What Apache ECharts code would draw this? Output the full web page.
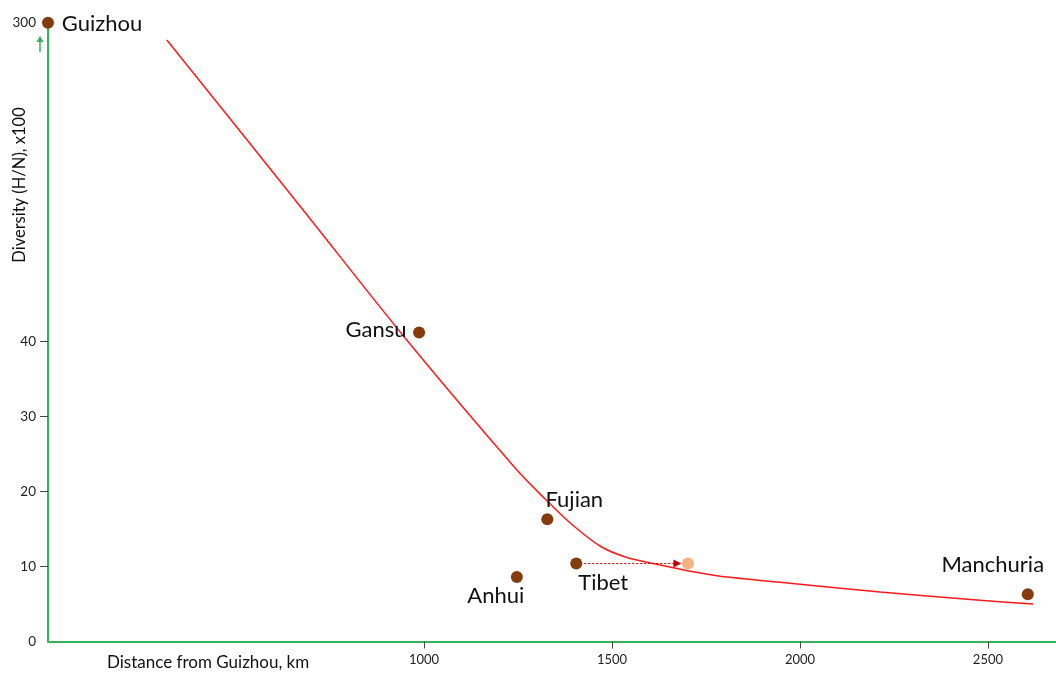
<!DOCTYPE html>
<html>
<head>
<meta charset="utf-8">
<style>
  html, body { margin: 0; padding: 0; background: #ffffff; }
  #chart { width: 1056px; height: 676px; }
</style>
<script src="https://cdn.jsdelivr.net/npm/echarts@6/dist/echarts.min.js"></script>
</head>
<body>
<div id="chart"></div>
<script>
// Regions and their measured values
const regions = ['Guizhou', 'Gansu', 'Fujian', 'Anhui', 'Tibet', 'Manchuria'];
const distanceKm = [0, 987, 1328, 1247, 1405, 2606];
const diversity = [300, 41.2, 16.3, 8.6, 10.4, 6.3];

// Alternative position for Tibet
const tibetShiftedDistance = 1702;
const tibetShiftedDiversity = 10.4;

// Fitted trend curve
const trendDistance = [316, 671, 954, 1243, 1322, 1389, 1469, 1540, 1628, 1716, 1788, 1947, 2213, 2479, 2620];
const trendDiversity = [284.4, 133.4, 40.2, 23.1, 19.0, 15.8, 12.7, 11.2, 10.2, 9.3, 8.7, 7.9, 6.6, 5.5, 5.0];

// Axis ticks
const xTickValues = [1000, 1500, 2000, 2500];
const yTickValues = [10, 20, 30, 40];
const yLabelValues = [0, 10, 20, 30, 40, 300];

// Broken y axis: linear up to BREAK_LOW, compressed from there to BREAK_HIGH
const BREAK_LOW = 45, BREAK_HIGH = 300, DISPLAY_TOP = 82.5;
const breakRatio = (DISPLAY_TOP - BREAK_LOW) / (BREAK_HIGH - BREAK_LOW);
function toDisplay(v) { return v <= BREAK_LOW ? v : BREAK_LOW + (v - BREAK_LOW) * breakRatio; }
function fromDisplay(d) { return d <= BREAK_LOW ? d : BREAK_LOW + (d - BREAK_LOW) / breakRatio; }

const GREEN = '#33b35a';
const BROWN = '#843c0c';
const FONT = 'Lato';

// Label placement around each dot
const labelOffsets = {
  Guizhou: [54, 1],
  Gansu: [-43, -3],
  Fujian: [27, -19],
  Anhui: [-21, 19],
  Tibet: [27, 19],
  Manchuria: [-35, -29]
};

const pointData = regions.map((name, i) => ({
  name: name,
  value: [distanceKm[i], toDisplay(diversity[i])],
  label: { offset: labelOffsets[name] }
}));

const trendData = trendDistance.map((x, i) => [x, toDisplay(trendDiversity[i])]);

const tibetIndex = regions.indexOf('Tibet');
const arrowGapKm = 28;

const chart = echarts.init(document.getElementById('chart'));
chart.setOption({
  backgroundColor: '#ffffff',
  animation: false,
  grid: { left: 48, right: 0, top: 22.7, bottom: 34.5, containLabel: false },
  xAxis: {
    type: 'value',
    min: 0,
    max: 2681,
    name: 'Distance from Guizhou, km',
    nameLocation: 'start',
    nameGap: -59,
    nameTextStyle: {
      fontFamily: FONT, fontSize: 17, color: '#111',
      align: 'left', verticalAlign: 'top', padding: [13, 0, 0, 0]
    },
    axisLine: { show: true, onZero: false, lineStyle: { color: GREEN, width: 2 } },
    axisTick: { show: true, customValues: xTickValues, length: 7, lineStyle: { color: '#444', width: 1 } },
    axisLabel: {
      show: true, customValues: xTickValues, margin: 12,
      fontFamily: FONT, fontSize: 13, color: '#222',
      formatter: v => String(v)
    },
    splitLine: { show: false }
  },
  yAxis: {
    type: 'value',
    min: 0,
    max: DISPLAY_TOP,
    axisLine: { show: true, onZero: false, lineStyle: { color: GREEN, width: 2 } },
    axisTick: { show: true, customValues: yTickValues, length: 8, lineStyle: { color: '#444', width: 1 } },
    axisLabel: {
      show: true,
      customValues: yLabelValues.map(toDisplay),
      margin: 12,
      fontFamily: FONT, fontSize: 13.5, color: '#222',
      formatter: d => String(Math.round(fromDisplay(d)))
    },
    splitLine: { show: false }
  },
  graphic: [
    {
      type: 'text',
      x: 20, y: 185,
      rotation: Math.PI / 2,
      style: { text: 'Diversity (H/N), x100', fontFamily: FONT, fontSize: 16.5, fill: '#111', textAlign: 'center', textVerticalAlign: 'middle' }
    },
    {
      type: 'group',
      children: [
        { type: 'line', shape: { x1: 40, y1: 52, x2: 40, y2: 40 }, style: { stroke: GREEN, lineWidth: 1.5 } },
        { type: 'polygon', shape: { points: [[36.5, 42], [43.5, 42], [40, 36]] }, style: { fill: GREEN } }
      ]
    }
  ],
  series: [
    {
      name: 'trend',
      type: 'line',
      data: trendData,
      smooth: 0.3,
      showSymbol: false,
      symbol: 'none',
      clip: false,
      lineStyle: { color: '#ff1a1a', width: 1.5 },
      z: 2
    },
    {
      name: 'Tibet (alt.)',
      type: 'scatter',
      data: [[tibetShiftedDistance, toDisplay(tibetShiftedDiversity)]],
      symbolSize: 12,
      itemStyle: { color: '#f4b183', opacity: 1 },
      z: 3,
      markLine: {
        silent: true,
        symbol: ['none', 'triangle'],
        symbolSize: [8, 8],
        label: { show: false },
        lineStyle: { color: '#c00000', type: [2, 2], width: 1 },
        data: [[
          { coord: [distanceKm[tibetIndex], toDisplay(diversity[tibetIndex])] },
          { coord: [tibetShiftedDistance - arrowGapKm, toDisplay(tibetShiftedDiversity)] }
        ]]
      }
    },
    {
      name: 'regions',
      type: 'scatter',
      data: pointData,
      symbolSize: 12,
      clip: false,
      itemStyle: { color: BROWN, opacity: 1 },
      label: {
        show: true,
        position: 'inside',
        formatter: p => p.name,
        fontFamily: FONT,
        fontSize: 22,
        color: '#111'
      },
      z: 5
    }
  ]
});
</script>
</body>
</html>
